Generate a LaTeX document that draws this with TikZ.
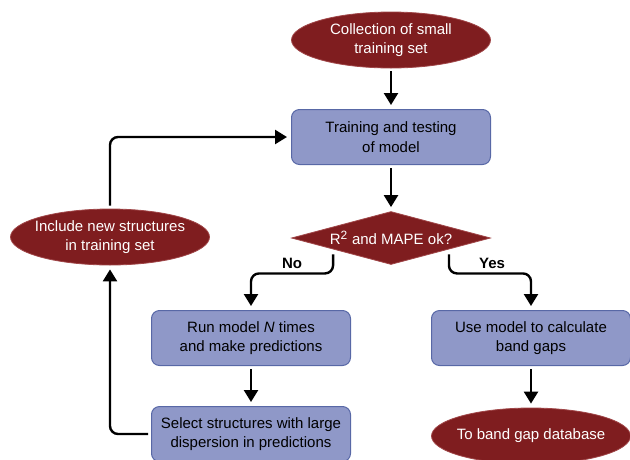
\documentclass[tikz,border=0pt]{standalone}
\usepackage{fontspec}
\setmainfont{Liberation Sans}
\usetikzlibrary{shapes.geometric,arrows.meta}

\definecolor{boxblue}{RGB}{143,152,200}
\definecolor{boxedge}{RGB}{88,104,166}
\definecolor{maroon}{RGB}{127,29,31}
\definecolor{maroonedge}{RGB}{160,70,72}

\tikzstyle{stepbox} = [draw=boxedge, fill=boxblue, line width=1pt,
    rectangle, rounded corners=8pt, minimum width=199pt, minimum height=55pt,
    align=center, inner sep=2pt]
\tikzstyle{endcap} = [draw=maroonedge, fill=maroon, line width=0.8pt,
    ellipse, minimum width=199pt, minimum height=56pt, inner xsep=-14pt,
    inner ysep=0pt, align=center, text=white]
\tikzstyle{decide} = [draw=maroonedge, fill=maroon, line width=0.8pt,
    diamond, aspect=3.75, minimum width=199pt, minimum height=53pt,
    inner sep=0pt, text=white]
\tikzstyle{flow} = [line width=2.4pt, rounded corners=8pt,
    -{Triangle[width=14pt,length=12pt]}, shorten <=3pt, shorten >=4pt]

\begin{document}
\begin{tikzpicture}[x=1pt, y=-1pt, font=\fontsize{15}{19.5}\selectfont]
\useasboundingbox (0,0) rectangle (630,459);

\node [endcap] (collect) at (391,40) {Collection of small\\training set};
\node [stepbox] (train) at (391,137) {Training and testing\\of model};
\node [decide] (ok) at (391,238) {R\textsuperscript{\fontsize{12}{12}\selectfont 2} and MAPE ok?};
\node [endcap] (include) at (110,237) {Include new structures\\in training set};
\node [stepbox] (run) at (251,338) {Run model \textit{N} times\\and make predictions};
\node [stepbox] (usemodel) at (531,338) {Use model to calculate\\band gaps};
\node [stepbox] (select) at (251,434) {Select structures with large\\dispersion in predictions};
\node [endcap] (database) at (531,436) {To band gap database};

% main line
\draw [flow] (collect) -- (train);
\draw [flow] (train) -- (ok);
\draw [flow] ([xshift=-8pt]ok.south west) -- ++(0,22) -| (run.north);
\draw [flow] ([xshift=8pt]ok.south east) -- ++(0,22) -| (usemodel.north);
\draw [flow] (run) -- (select);
\draw [flow] (usemodel) -- (database);

% retraining loop
\draw [flow] (select.west) -| (include.south);
\draw [flow] (include.north) |- (train.west);

\node [font=\fontsize{15}{19.5}\selectfont\bfseries] (no) at (292,263) {No};
\node [font=\fontsize{15}{19.5}\selectfont\bfseries] (yes) at (492,263) {Yes};
\end{tikzpicture}
\end{document}
